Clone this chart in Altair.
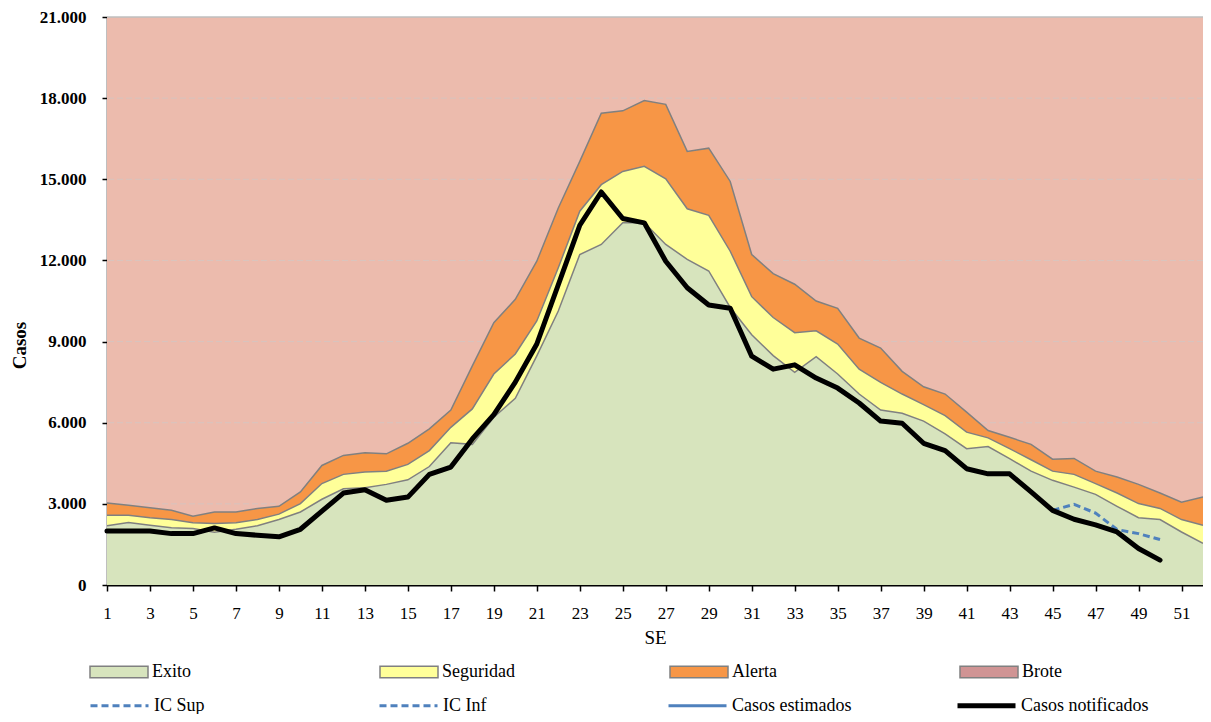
import altair as alt
import pandas as pd

# ---------------- data ----------------
semanas = list(range(1, 53))

exito = [2190, 2310, 2210, 2120, 2090, 1950, 2060, 2190, 2420, 2700,
         3170, 3560, 3600, 3720, 3890, 4380, 5260, 5200, 6200, 6900,
         8470, 10130, 12220, 12590, 13390, 13390, 12590, 12040, 11610, 10260,
         9250, 8480, 7860, 8440, 7800, 7060, 6470, 6350, 6060, 5590,
         5040, 5120, 4670, 4210, 3870, 3620, 3350, 2910, 2490, 2420,
         1960, 1540]

seguridad = [2580, 2580, 2490, 2420, 2300, 2270, 2300, 2420, 2620, 3010,
             3750, 4090, 4180, 4210, 4460, 4970, 5830, 6510, 7800, 8540,
             9760, 11730, 13820, 14800, 15290, 15480, 15020, 13910, 13670, 12340,
             10660, 9890, 9330, 9400, 8910, 7980, 7490, 7060, 6670, 6260,
             5650, 5440, 5040, 4630, 4210, 4090, 3750, 3400, 3010, 2830,
             2420, 2210]

alerta = [3030, 2950, 2860, 2760, 2540, 2700, 2700, 2830, 2910, 3440,
          4420, 4790, 4890, 4850, 5240, 5770, 6470, 8100, 9700, 10560,
          11970, 13940, 15660, 17440, 17530, 17910, 17770, 16030, 16150, 14920,
          12220, 11510, 11120, 10500, 10230, 9130, 8760, 7900, 7330, 7060,
          6390, 5710, 5460, 5200, 4650, 4680, 4210, 3990, 3720, 3400,
          3060, 3250]

brote_tope = 21000

semanas_notif = list(range(1, 51))
notificados = [2000, 2000, 2000, 1900, 1900, 2110, 1900, 1840, 1780, 2060,
               2730, 3400, 3525, 3130, 3250, 4090, 4360, 5400, 6300, 7500,
               8910, 11100, 13300, 14530, 13550, 13390, 11970, 10990, 10350, 10230,
               8460, 7980, 8140, 7650, 7280, 6730, 6060, 5980, 5240, 4970,
               4300, 4110, 4110, 3440, 2760, 2430, 2220, 1960, 1350, 920]

semanas_ic = [45, 46, 47, 48, 49, 50]
ic_sup = [2760, 2980, 2660, 2050, 1900, 1680]
ic_inf = [2760, 2430, 2220, 1960, 1350, 920]
estimados = [2760, 2430, 2220, 1960, 1350, 920]

y_ticks = [0, 3000, 6000, 9000, 12000, 15000, 18000, 21000]
grid_vals = [3000, 6000, 9000, 12000, 15000, 18000]

bandas = ["Exito", "Seguridad", "Alerta", "Brote"]
colores_banda = ["#D7E4BD", "#FFFF99", "#F79646", "#D09494"]
color_brote_area = "#ECBBAD"

series = ["IC Sup", "IC Inf", "Casos estimados", "Casos notificados"]
colores_serie = ["#4F81BD", "#4F81BD", "#4F81BD", "#000000"]
dash_serie = [[7, 4], [7, 4], [1, 0], [1, 0]]
ancho_serie = [3, 3, 3, 5]

# ---------------- tables ----------------
df_wide = pd.DataFrame({"semana": semanas, "alerta": alerta,
                        "tope": [brote_tope] * len(semanas)})

rows = []
for i, s in enumerate(semanas):
    rows.append({"semana": s, "banda": "Exito", "bajo": 0, "alto": exito[i]})
    rows.append({"semana": s, "banda": "Seguridad", "bajo": exito[i], "alto": seguridad[i]})
    rows.append({"semana": s, "banda": "Alerta", "bajo": seguridad[i], "alto": alerta[i]})
df_bandas = pd.DataFrame(rows)

srows = []
for s, v in zip(semanas_ic, ic_sup):
    srows.append({"semana": s, "serie": "IC Sup", "valor": v})
for s, v in zip(semanas_ic, ic_inf):
    srows.append({"semana": s, "serie": "IC Inf", "valor": v})
for s, v in zip(semanas_ic, estimados):
    srows.append({"semana": s, "serie": "Casos estimados", "valor": v})
for s, v in zip(semanas_notif, notificados):
    srows.append({"semana": s, "serie": "Casos notificados", "valor": v})
df_series = pd.DataFrame(srows)

df_grid = pd.DataFrame({"valor": grid_vals})
df_top = pd.DataFrame({"valor": [brote_tope]})

FONT = "Liberation Serif"

x_enc = alt.X(
    "semana:Q",
    title="SE",
    scale=alt.Scale(domain=[1, 52], nice=False, zero=False),
    axis=alt.Axis(
        values=semanas,
        labelExpr="datum.value % 2 == 1 ? toString(datum.value) : ''",
        grid=False, tickSize=6, tickWidth=1.5, tickColor="black",
        domainColor="black", domainWidth=2,
        labelFont=FONT, labelFontSize=17, labelColor="black",
        labelPadding=14, labelFlush=False, labelOverlap=False,
        titleFont=FONT, titleFontSize=19, titleFontWeight="normal",
        titleColor="black", titlePadding=7,
    ),
)

y_enc = alt.Y(
    "tope:Q",
    title="Casos",
    scale=alt.Scale(domain=[0, 21000], nice=False),
    axis=alt.Axis(
        values=y_ticks,
        labelExpr="replace(format(datum.value, ','), ',', '.')",
        grid=False, tickSize=5, tickWidth=1.5, tickColor="black",
        domainColor="black", domainWidth=1.5,
        labelFont=FONT, labelFontSize=17, labelFontWeight="bold",
        labelColor="black", labelPadding=16, labelFlush=False,
        labelOverlap=False,
        titleFont=FONT, titleFontSize=19, titleFontWeight="bold",
        titleColor="black", titleX=-88, titleY=328, titleAngle=270,
        titleAlign="center", titleBaseline="middle",
    ),
)

brote = alt.Chart(df_wide).mark_area(color=color_brote_area).encode(
    x=x_enc, y=y_enc, y2="alerta:Q"
)

grid = alt.Chart(df_grid).mark_rule(
    color="#C9C9C9", opacity=0.6, strokeDash=[6, 3], strokeWidth=1
).encode(y=alt.Y("valor:Q", title="Casos"))

top_line = alt.Chart(df_top).mark_rule(color="#BFBFBF", strokeWidth=1.5).encode(
    y=alt.Y("valor:Q", title="Casos")
)

legend_bandas = alt.Legend(
    title=None, orient="none", legendX=-18, legendY=625,
    direction="horizontal", columns=4, gridAlign="all", columnPadding=152,
    symbolType="M-1,-0.2H1V0.2H-1Z", symbolSize=3364,
    symbolStrokeColor="#808080", symbolStrokeWidth=1.5, symbolOpacity=1,
    labelFont=FONT, labelFontSize=18, labelColor="black", labelOffset=3,
    labelLimit=300,
)

areas = alt.Chart(df_bandas).mark_area(opacity=1).encode(
    x="semana:Q",
    y=alt.Y("alto:Q", title="Casos"),
    y2="bajo:Q",
    fill=alt.Fill("banda:N", scale=alt.Scale(domain=bandas, range=colores_banda),
                  legend=legend_bandas),
)

bordes = alt.Chart(df_bandas).mark_line(color="#808080", strokeWidth=1.5).encode(
    x="semana:Q", y=alt.Y("alto:Q", title="Casos"), detail="banda:N"
)

legend_series = alt.Legend(
    title=None, orient="none", legendX=-19, legendY=657,
    direction="horizontal", columns=4, gridAlign="all", columnPadding=87,
    symbolType="stroke", symbolSize=3364,
    labelFont=FONT, labelFontSize=18, labelColor="black", labelOffset=3,
    labelLimit=300,
)

enc_series = dict(
    x="semana:Q",
    y=alt.Y("valor:Q", title="Casos"),
    stroke=alt.Stroke("serie:N", scale=alt.Scale(domain=series, range=colores_serie),
                      legend=legend_series, title=None),
    strokeDash=alt.StrokeDash("serie:N", scale=alt.Scale(domain=series, range=dash_serie),
                              legend=legend_series, title=None),
    strokeWidth=alt.StrokeWidth("serie:N",
                                scale=alt.Scale(type="ordinal", domain=series, range=ancho_serie),
                                legend=legend_series, title=None),
)

azules = alt.Chart(df_series).transform_filter(
    "datum.serie != 'Casos notificados'"
).mark_line(strokeCap="butt").encode(**enc_series)

# thick black line drawn on top (mark-level width, scale kept for legend)
negra = alt.Chart(df_series).transform_filter(
    "datum.serie == 'Casos notificados'"
).mark_line(strokeCap="round", strokeJoin="round", strokeWidth=5, color="black").encode(
    x="semana:Q", y=alt.Y("valor:Q", title="Casos"),
)

chart = alt.layer(brote, grid, top_line, areas, bordes, azules, negra).properties(
    width=1096, height=568, autosize="none",
    padding={"left": 99, "top": 9, "right": 0, "bottom": 129},
    background="white",
).configure_view(stroke=None)

chart.save("out.html", embed_options={"renderer": "svg", "actions": False})
